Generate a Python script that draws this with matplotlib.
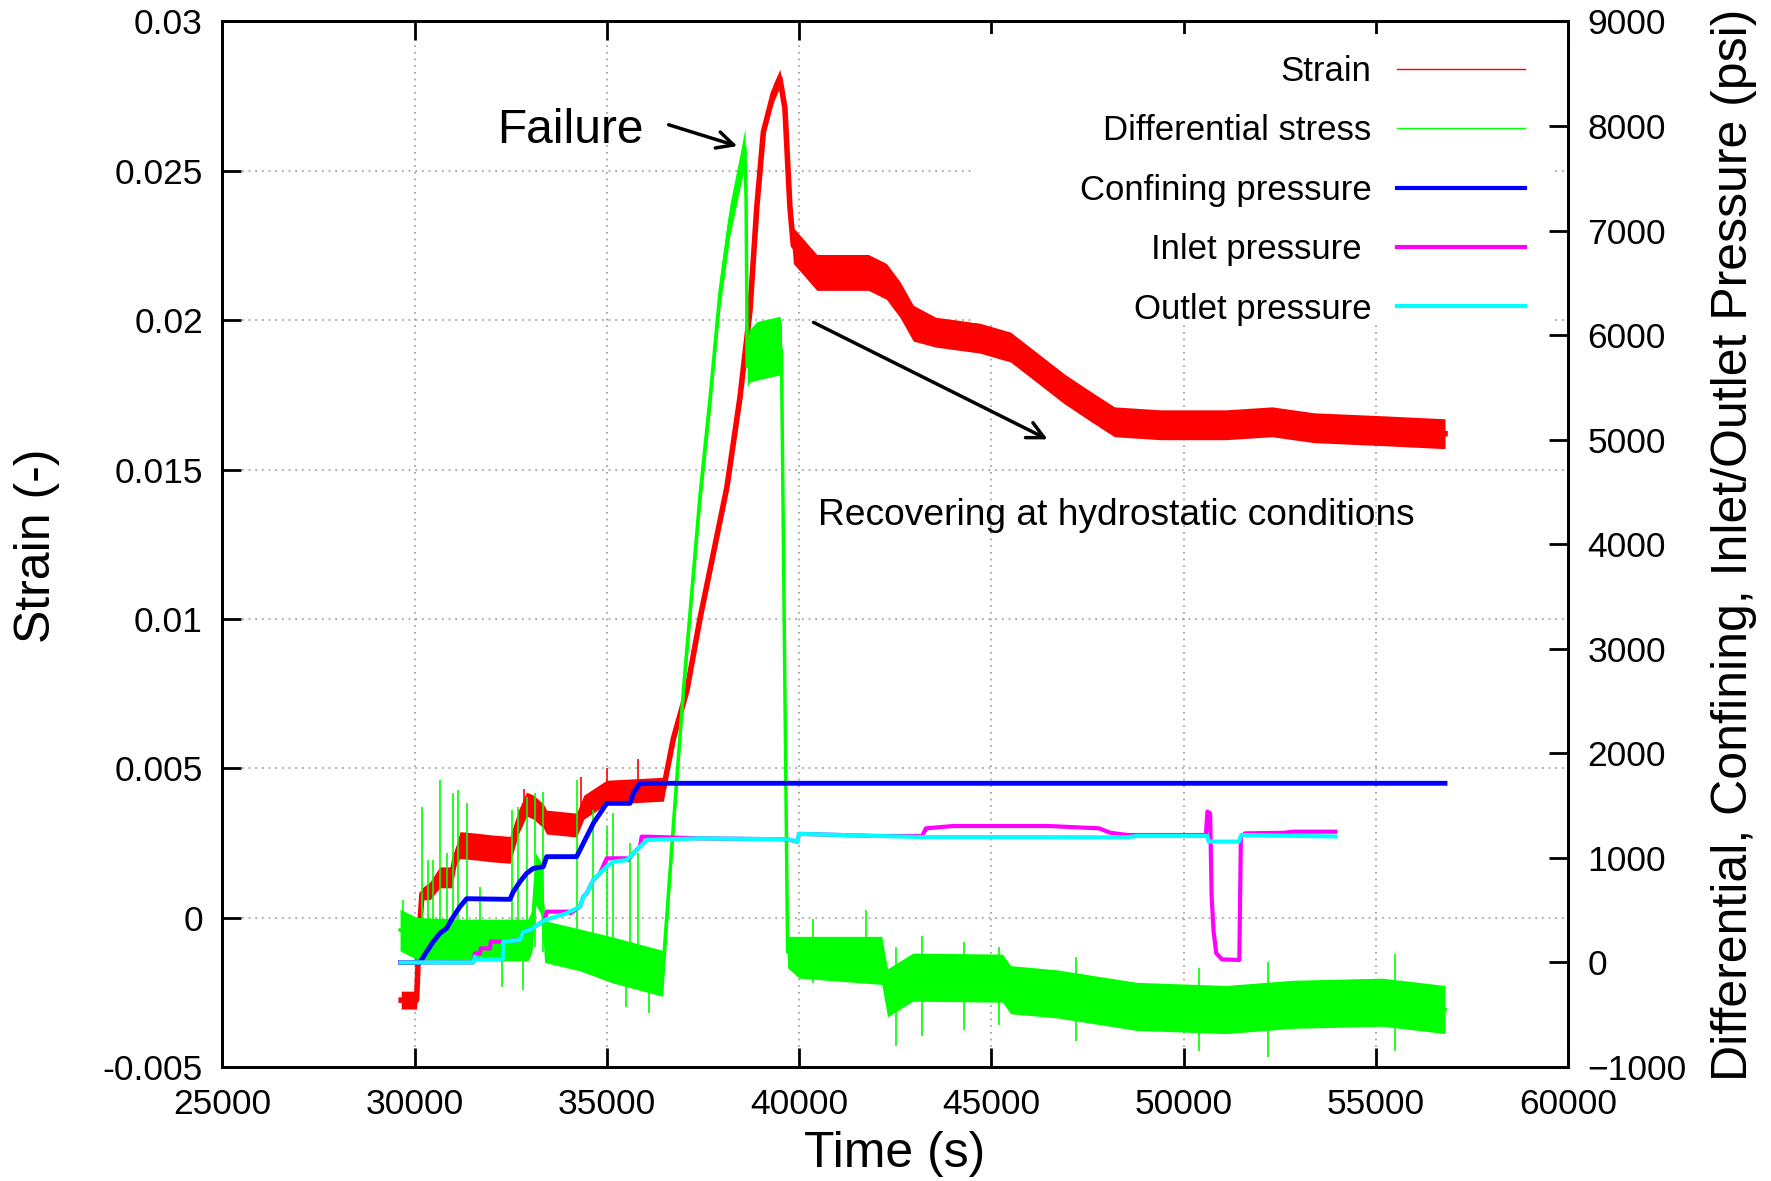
import numpy as np
import matplotlib
matplotlib.use('Agg')
from matplotlib import pyplot as plt
from matplotlib.lines import Line2D
from matplotlib.patches import Rectangle
from matplotlib.ticker import FuncFormatter

plt.rcParams['font.family'] = ['Liberation Sans', 'DejaVu Sans']

# ---- strain (left axis), noisy band: mid +/- spread
strain_t = [29650, 30050, 30120, 30190, 30400, 30650, 30960, 31050, 31180, 31600,
            32000, 32480, 32700, 32910, 33090, 33350, 33430, 34210, 34400, 34990,
            36470, 36730, 37080, 37420, 37770, 38120, 38460, 38720, 38900, 39070,
            39330, 39500, 39630, 39760, 39850, 40460, 41800, 42270, 42620, 42970,
            43550, 44700, 45500, 46200, 46900, 47600, 48200, 49400, 51100, 52300,
            53400, 55200, 56800]
strain_mid = [-0.00276, -0.00276, -0.0005, 0.0008, 0.0009, 0.00135, 0.00135, 0.0020, 0.00243, 0.00238,
              0.00232, 0.00227, 0.0032, 0.0038, 0.0037, 0.0034, 0.0032, 0.0031, 0.0037, 0.0042,
              0.0043, 0.0060, 0.0076, 0.0100, 0.0122, 0.0144, 0.0174, 0.0203, 0.0238, 0.0263,
              0.0276, 0.0281, 0.0271, 0.0238, 0.0225, 0.0216, 0.0216, 0.0213, 0.0207, 0.0199,
              0.0196, 0.0194, 0.0191, 0.0184, 0.0177, 0.0171, 0.0166, 0.0165, 0.0165, 0.0166,
              0.0164, 0.0163, 0.0162]
strain_spread = [0.0003, 0.0003, 0.0002, 0.0002, 0.0003, 0.00035, 0.00035, 0.0003, 0.00045, 0.00045,
                 0.00045, 0.00045, 0.0004, 0.0004, 0.0004, 0.0004, 0.0004, 0.0004, 0.0004, 0.0004,
                 0.0004, 0.0002, 0.0002, 0.0002, 0.0002, 0.0002, 0.0002, 0.0002, 0.0002, 0.0002,
                 0.0003, 0.0003, 0.0003, 0.0003, 0.0006, 0.0006, 0.0006, 0.0006, 0.0006, 0.0006,
                 0.0005, 0.0005, 0.0005, 0.0005, 0.0005, 0.0005, 0.0005, 0.0005, 0.0005, 0.0005,
                 0.0005, 0.0005, 0.0005]
strain_spike_t = [32850, 34330, 35000, 35800]
strain_spike_lo = [0.0035, 0.0036, 0.0040, 0.0042]
strain_spike_hi = [0.0043, 0.0047, 0.0050, 0.0053]

# ---- differential stress (psi, right axis)
stress_t = [29620, 30050, 31200, 32950, 33050, 33150, 33300, 33380, 34300, 35150,
            36450, 36730, 36990, 37420, 37680, 37940, 38200, 38460, 38590, 38620,
            38650, 38700, 38900, 39500, 39540, 39700, 40000, 42150, 42300, 42960,
            45290, 45500, 46700, 48780, 51100, 52850, 55170, 56800]
stress_mid = [310, 231, 215, 215, 300, 800, 700, 200, 120, 24,
              -104, 1320, 2606, 4460, 5386, 6406, 7102, 7566, 7800, 7300,
              5700, 5800, 5850, 5900, 5850, 100, 50, 20, -290, -140,
              -150, -260, -300, -420, -450, -400, -380, -450]
stress_spread = [200, 200, 200, 200, 200, 250, 250, 200, 200, 220,
                 220, 140, 140, 150, 150, 150, 150, 160, 180, 150,
                 200, 250, 280, 280, 250, 150, 200, 230, 230, 230,
                 230, 230, 230, 230, 230, 230, 230, 230]
stress_spike_t = [29704, 30181, 30354, 30485, 30658, 30831, 30987, 31135, 31352, 31699,
                  32522, 32696, 32913, 33129, 33346, 34213, 34647, 34994, 35167, 35601,
                  35818, 32260, 32830, 35500, 36100, 40350, 41740, 42520, 43200, 44300,
                  45200, 47200, 50400, 52200, 55500]
stress_spike_lo = [150, 150, 150, 150, 150, 150, 150, 150, 150, 150,
                   150, 150, 150, 150, 100, 50, 0, 0, -50, -80,
                   -80, -231, -263, -423, -486, -200, -200, -800, -700, -650,
                   -600, -750, -850, -900, -850]
stress_spike_hi = [597, 1490, 980, 980, 1745, 1044, 1618, 1650, 1522, 725,
                   1458, 1490, 1586, 1618, 1634, 1745, 1458, 1299, 1426, 1140,
                   1044, 200, 200, 0, -50, 420, 500, 150, 250, 200,
                   150, 50, -50, 0, 80]

# ---- confining pressure
conf_t = [29640, 30137, 30311, 30485, 30658, 30831, 31005, 31178, 31352, 32479,
          32566, 32740, 32913, 33086, 33346, 33433, 34213, 34300, 34474, 34647,
          34821, 34994, 35601, 35688, 35861, 56800]
conf_p = [0, 0, 103, 199, 279, 327, 438, 534, 610, 604,
          677, 773, 853, 900, 916, 1012, 1012, 1076, 1203, 1331,
          1426, 1522, 1522, 1618, 1714, 1714]

# ---- outlet pressure
out_t = [29640, 31525, 31568, 31600, 32290, 32306, 32740, 32826, 33000, 33390,
         33953, 34300, 34387, 34474, 34647, 34821, 34994, 35167, 35514, 35688,
         35861, 36035, 37422, 39700, 39950, 40000, 42000, 43200, 48550, 48780,
         50620, 50650, 51440, 51500, 53950]
out_p = [0, 0, 56, 30, 30, 199, 215, 295, 311, 406,
         470, 534, 630, 661, 789, 853, 916, 964, 980, 1044,
         1108, 1172, 1187, 1178, 1155, 1230, 1210, 1200, 1197, 1210,
         1210, 1156, 1156, 1219, 1205]

# ---- inlet pressure
in_t = [29640, 31525, 31568, 31698, 31720, 31958, 31980, 32306, 32740, 32826,
        33000, 33390, 33433, 33997, 34050, 34300, 34387, 34474, 34647, 34821,
        34994, 35514, 35550, 35688, 35861, 35904, 36035, 37422, 39700, 39950,
        40000, 42000, 43200, 43300, 44000, 46500, 47800, 48100, 48550, 50580,
        50620, 50690, 50730, 50780, 50850, 51000, 51450, 51490, 51600, 52600,
        52850, 53950]
in_p = [0, 0, 87, 87, 135, 135, 199, 199, 215, 295,
        311, 406, 486, 486, 470, 534, 630, 661, 789, 853,
        996, 996, 980, 1044, 1108, 1203, 1203, 1187, 1178, 1155,
        1230, 1210, 1210, 1283, 1305, 1305, 1283, 1240, 1219, 1219,
        1443, 1427, 629, 300, 88, 30, 24, 1203, 1235, 1240,
        1251, 1251]

fig = plt.figure(figsize=(17.71, 11.81), dpi=100)
ax = fig.add_axes([0.1256, 0.0965, 0.7598, 0.8853])
ax2 = ax.twinx()

ax.set_xlim(25000, 60000)
ax.set_ylim(-0.005, 0.03)
ax2.set_ylim(-1000, 9000)

ax.grid(True, color='#999999', linestyle=(0, (1, 3)), linewidth=1.2)

# strain
s_mid = np.array(strain_mid)
s_spr = np.array(strain_spread)
ax.fill_between(strain_t, s_mid - s_spr, s_mid + s_spr, color='#ff0000', lw=0, zorder=2)
ax.plot(strain_t, strain_mid, color='#ff0000', lw=4, zorder=2)
ax.vlines(strain_spike_t, strain_spike_lo, strain_spike_hi, color='#ff0000', lw=1.2, zorder=2)

# white box behind key (blanks the grid)
ax2.add_patch(Rectangle((0.557, 0.712), 0.433, 0.276, transform=ax2.transAxes,
                        facecolor='white', edgecolor='none', zorder=0.5))

# differential stress
d_mid = np.array(stress_mid)
d_spr = np.array(stress_spread)
ax2.fill_between(stress_t, d_mid - d_spr, d_mid + d_spr, color='#00ff00', lw=0, zorder=2)
ax2.plot(stress_t, stress_mid, color='#00ff00', lw=2.5, zorder=2)
ax2.vlines(stress_spike_t, stress_spike_lo, stress_spike_hi, color='#00ff00', lw=1.2, zorder=2)

ax2.plot(conf_t, conf_p, color='#0000ff', lw=3.5, zorder=3)
ax2.plot(in_t, in_p, color='#ff00ff', lw=3, zorder=4)
ax2.plot(out_t, out_p, color='#00ffff', lw=3, zorder=5)

# axes styling
for a in (ax, ax2):
    for sp in a.spines.values():
        sp.set_linewidth(2)
ax.set_xticks(np.arange(25000, 60001, 5000))
ax.set_yticks(np.arange(-0.005, 0.0301, 0.005))
ax2.set_yticks(np.arange(-1000, 9001, 1000))
ax.yaxis.set_major_formatter(FuncFormatter(lambda v, p: '%g' % round(v, 4)))
ax.tick_params(axis='x', direction='in', length=14, width=2, labelsize=25.5, pad=15,
               top=True, bottom=True)
ax.tick_params(axis='y', direction='in', length=14, width=2, labelsize=25.5, pad=14,
               left=True, right=False)
ax2.tick_params(axis='y', direction='in', length=14, width=2, labelsize=25.5, pad=14)

fig.text(37 / 1771, 1 - 546 / 1181, 'Strain (-)', rotation=90, fontsize=36,
         ha='center', va='center')
fig.text(1734 / 1771, 1 - 545 / 1181, 'Differential, Confining, Inlet/Outlet Pressure (psi)',
         rotation=90, fontsize=36, ha='center', va='center')
fig.text(895 / 1771, 1 - 1154 / 1181, 'Time (s)', fontsize=36, ha='center', va='center')

# legend
handles = [Line2D([], [], color='#ff0000', lw=1),
           Line2D([], [], color='#00ff00', lw=1),
           Line2D([], [], color='#0000ff', lw=3),
           Line2D([], [], color='#ff00ff', lw=3),
           Line2D([], [], color='#00ffff', lw=3)]
labels = ['Strain', 'Differential stress', 'Confining pressure', 'Inlet pressure ', 'Outlet pressure']
ax2.legend(handles, labels, loc='upper right', bbox_to_anchor=(0.981, 0.9846),
           borderaxespad=0, markerfirst=False, frameon=False, fontsize=25,
           handlelength=3.7, handletextpad=0.72, labelspacing=0.76, borderpad=0.5)

# annotations
ax.annotate('', xy=(38463, 0.0258), xytext=(36538, 0.02657),
            arrowprops=dict(arrowstyle='->', lw=2.5, color='black', mutation_scale=30),
            zorder=6)
ax.text(35965, 0.02634, 'Failure', fontsize=34.5, ha='right', va='center')
ax.annotate('', xy=(46527, 0.01597), xytext=(40309, 0.01997),
            arrowprops=dict(arrowstyle='->', lw=2.5, color='black', mutation_scale=30),
            zorder=6)
ax.text(40490, 0.01345, 'Recovering at hydrostatic conditions', fontsize=26.7,
        ha='left', va='center')

fig.savefig('out.png', dpi=100)
